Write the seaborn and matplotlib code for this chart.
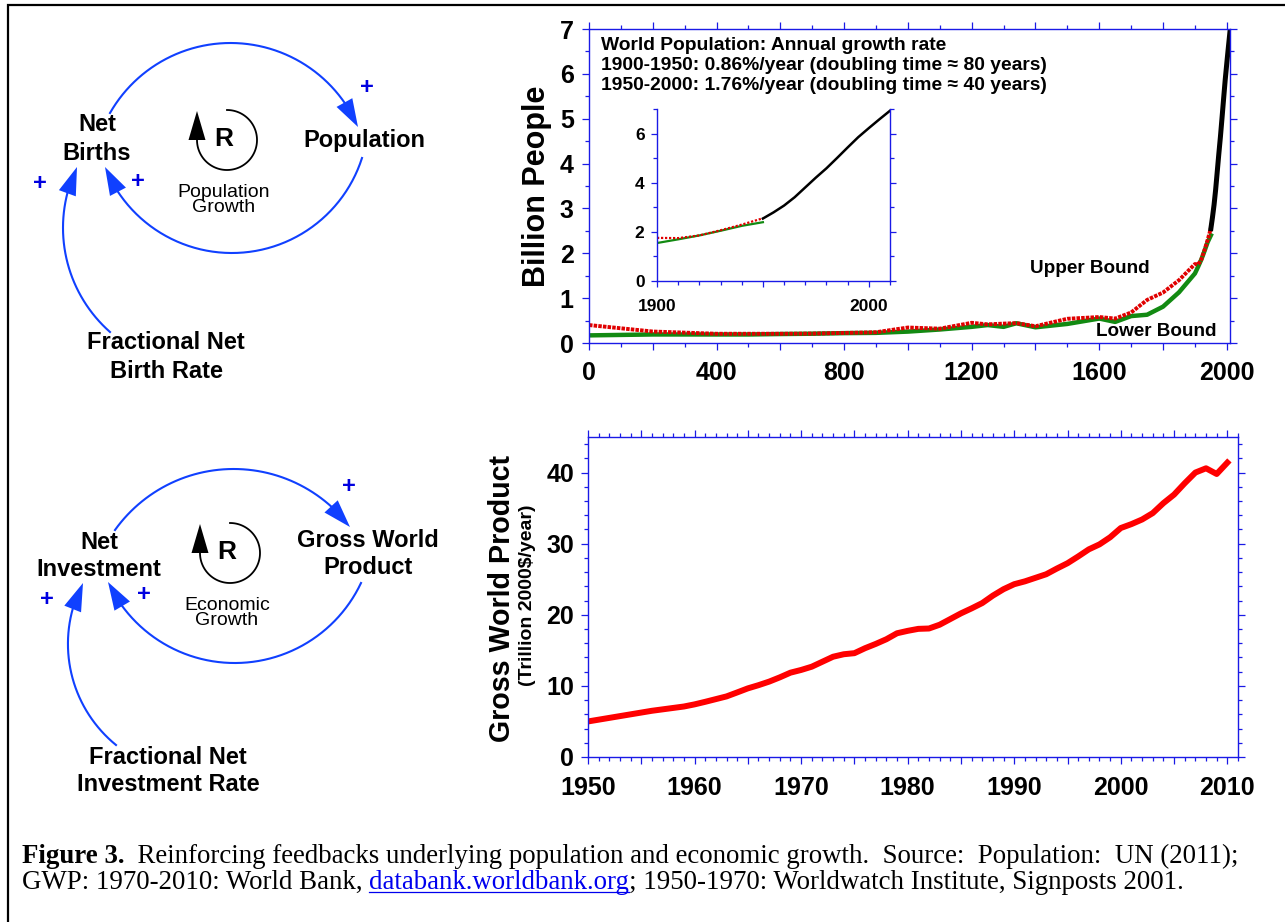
import matplotlib
matplotlib.use("Agg")
import matplotlib.pyplot as plt
import matplotlib.ticker as mticker
from matplotlib.patches import Polygon
import numpy as np
import seaborn as sns

# world population estimates, billions (lower / upper bound)
pop_years = [0, 200, 400, 500, 600, 700, 800, 900, 1000, 1100, 1200, 1250, 1300,
             1340, 1400, 1500, 1600, 1650, 1700, 1750, 1800, 1850, 1900, 1910,
             1920, 1930, 1940, 1950]
pop_lower = [0.17, 0.19, 0.19, 0.19, 0.20, 0.207, 0.22, 0.226, 0.254, 0.301, 0.36,
             0.40, 0.36, 0.44, 0.35, 0.425, 0.545, 0.47, 0.60, 0.63, 0.81, 1.13,
             1.55, 1.70, 1.86, 2.05, 2.25, 2.40]
pop_upper = [0.40, 0.256, 0.206, 0.206, 0.206, 0.21, 0.224, 0.24, 0.345, 0.32, 0.45,
             0.416, 0.432, 0.443, 0.374, 0.54, 0.579, 0.545, 0.68, 0.96, 1.125, 1.40,
             1.76, 1.75, 1.86, 2.07, 2.30, 2.56]
# UN series 1950-2010, billions
un_years = [1950, 1955, 1960, 1965, 1970, 1975, 1980, 1985, 1990, 1995, 2000, 2005, 2010]
un_pop = [2.55, 2.80, 3.08, 3.42, 3.82, 4.22, 4.60, 5.02, 5.45, 5.87, 6.24, 6.60, 6.95]

# gross world product, trillion 2000$/year
gwp_years = list(range(1950, 2011))
gwp = [5.0, 5.25, 5.5, 5.75, 6.0, 6.25, 6.5, 6.7, 6.9, 7.1,
       7.4, 7.76, 8.14, 8.52, 9.08, 9.65, 10.1, 10.6, 11.2, 11.86,
       12.24, 12.7, 13.4, 14.1, 14.45, 14.6, 15.3, 15.9, 16.56, 17.4,
       17.74, 18.02, 18.07, 18.6, 19.4, 20.2, 20.9, 21.65, 22.7, 23.6,
       24.3, 24.7, 25.2, 25.7, 26.5, 27.25, 28.2, 29.2, 29.9, 30.9,
       32.2, 32.75, 33.4, 34.3, 35.7, 36.9, 38.5, 40.0, 40.6, 39.8, 41.4]

plt.rcParams["font.family"] = ["Liberation Sans", "DejaVu Sans"]
plt.rcParams["font.weight"] = "bold"
plt.rcParams["axes.labelweight"] = "bold"

W, H = 1285, 922
AXBLUE = "#1a1ae6"
LINKBLUE = "#1040ff"
PLUSBLUE = "#0000e0"

fig = plt.figure(figsize=(W / 100, H / 100), dpi=100)
bg = fig.add_axes([0, 0, 1, 1])
bg.set_xlim(0, W)
bg.set_ylim(H, 0)
bg.axis("off")

bg.plot([8, 8, W], [H, 5, 5], color="black", lw=1.6, solid_joinstyle="miter")


def circle_center(p, q, s):
    (x1, y1), (x2, y2), (x3, y3) = p, q, s
    d = 2 * (x1 * (y2 - y3) + x2 * (y3 - y1) + x3 * (y1 - y2))
    ux = ((x1**2 + y1**2) * (y2 - y3) + (x2**2 + y2**2) * (y3 - y1)
          + (x3**2 + y3**2) * (y1 - y2)) / d
    uy = ((x1**2 + y1**2) * (x3 - x2) + (x2**2 + y2**2) * (x1 - x3)
          + (x3**2 + y3**2) * (x2 - x1)) / d
    return ux, uy


def arrow_head(ax, tip, base, color, width=18):
    tip = np.array(tip, float)
    base = np.array(base, float)
    u = tip - base
    u /= np.hypot(*u)
    n = np.array([-u[1], u[0]])
    pts = [tip, base + n * width / 2, base - n * width / 2]
    ax.add_patch(Polygon(pts, closed=True, facecolor=color, edgecolor="none", zorder=3))


def link(ax, start, mid, tip, head=28):
    cx, cy = circle_center(start, mid, tip)
    r = np.hypot(start[0] - cx, start[1] - cy)
    ang = lambda p: np.arctan2(p[1] - cy, p[0] - cx)
    a0, am, a1 = ang(start), ang(mid), ang(tip)
    sweep = (a1 - a0) % (2 * np.pi)
    if (am - a0) % (2 * np.pi) > sweep:
        sweep -= 2 * np.pi
    a_base = a0 + sweep - np.sign(sweep) * head / r
    t = np.linspace(a0, a_base, 150)
    ax.plot(cx + r * np.cos(t), cy + r * np.sin(t), color=LINKBLUE, lw=1.5)
    arrow_head(ax, tip, (cx + r * np.cos(a_base), cy + r * np.sin(a_base)), LINKBLUE)


def loop_marker(ax, cx, cy, name):
    r = 30
    t = np.radians(np.linspace(90, -180, 120))
    ax.plot(cx + r * np.cos(t), cy - r * np.sin(t), color="black", lw=1.3)
    arrow_head(ax, (cx - r, cy - 29), (cx - r, cy), "black", 17)
    ax.text(cx - 3, cy - 1, "R", fontsize=19, ha="center", va="center")
    ax.text(cx - 3, cy + 60, name, fontsize=14, fontweight="normal",
            ha="center", va="center", linespacing=0.9)


def plus(ax, x, y):
    ax.text(x, y, "+", color=PLUSBLUE, fontsize=17, ha="center", va="center")


# population loop
bg.text(97, 139, "Net\nBirths", fontsize=17, ha="center", va="center", linespacing=1.3)
bg.text(364, 141, "Population", fontsize=17, ha="center", va="center")
bg.text(166, 357, "Fractional Net\nBirth Rate", fontsize=17, ha="center", va="center",
        linespacing=1.3)
link(bg, (110, 113), (230, 43), (358, 127))
link(bg, (362, 158), (233, 253), (105, 167))
link(bg, (110, 332), (63, 227), (77, 167))
plus(bg, 367, 87)
plus(bg, 138, 182)
plus(bg, 40, 184)
loop_marker(bg, 227, 140, "Population\nGrowth")

# economic loop
bg.text(99, 556, "Net\nInvestment", fontsize=17, ha="center", va="center", linespacing=1.25)
bg.text(368, 554, "Gross World\nProduct", fontsize=17, ha="center", va="center",
        linespacing=1.25)
bg.text(168, 771, "Fractional Net\nInvestment Rate", fontsize=17, ha="center",
        va="center", linespacing=1.25)
link(bg, (115, 530), (233, 469), (350, 527))
link(bg, (361, 583), (233, 663), (108, 582))
link(bg, (116, 745), (68, 640), (83, 583))
plus(bg, 349, 486)
plus(bg, 144, 594)
plus(bg, 47, 599)
loop_marker(bg, 230, 553, "Economic\nGrowth")


def style_axes(ax, size):
    for s in ax.spines.values():
        s.set_color(AXBLUE)
        s.set_linewidth(1.0)
    ax.tick_params(which="both", direction="out", color=AXBLUE, width=0.9,
                   labelcolor="black", labelsize=size)
    ax.tick_params(which="major", length=5)
    ax.tick_params(which="minor", length=3)
    ax.set_xlabel("")
    ax.set_ylabel("")


# top chart: world population
ax1 = fig.add_axes([589 / W, 1 - 343 / H, 641 / W, 314 / H])
sns.lineplot(x=pop_years, y=pop_lower, ax=ax1, color="#128a12", lw=3.2)
sns.lineplot(x=pop_years, y=pop_upper, ax=ax1, color="#e00000", lw=2.8,
             ls=(0, (0.9, 0.3)))
sns.lineplot(x=un_years, y=un_pop, ax=ax1, color="black", lw=3.6)
ax1.set_xlim(0, 2010)
ax1.set_ylim(0, 7.0)
style_axes(ax1, 18)
ax1.tick_params(which="both", top=True, right=True, labeltop=False, labelright=False)
ax1.tick_params(axis="x", pad=8)
ax1.tick_params(axis="y", pad=6)
ax1.xaxis.set_major_locator(mticker.MultipleLocator(200))
ax1.xaxis.set_minor_locator(mticker.MultipleLocator(100))
ax1.xaxis.set_major_formatter(mticker.FuncFormatter(
    lambda v, p: f"{v:.0f}" if round(v) % 400 == 0 else ""))
ax1.yaxis.set_major_locator(mticker.MultipleLocator(1))
ax1.yaxis.set_minor_locator(mticker.MultipleLocator(0.5))
ax1.set_ylabel("Billion People", fontsize=22, fontweight="bold")
ax1.yaxis.set_label_coords((537 - 589) / 641, 0.5)
ax1.yaxis.label.set_va("center")
ax1.text(0.019, 0.975,
         "World Population: Annual growth rate\n"
         "1900-1950: 0.86%/year (doubling time \u2248 80 years)\n"
         "1950-2000: 1.76%/year (doubling time \u2248 40 years)",
         transform=ax1.transAxes, fontsize=13.9, va="top", ha="left", linespacing=1.22)
ax1.text(1569, 1.67, "Upper Bound", fontsize=13.6, ha="center", va="center")
ax1.text(1779, 0.26, "Lower Bound", fontsize=13.6, ha="center", va="center")

# inset: 1900-2010
inset_years = [y for y in pop_years if y >= 1900]
inset_lower = pop_lower[-len(inset_years):]
inset_upper = pop_upper[-len(inset_years):]
ax3 = fig.add_axes([657 / W, 1 - 281 / H, 233 / W, 172 / H])
sns.lineplot(x=inset_years, y=inset_lower, ax=ax3, color="#128a12", lw=1.6)
sns.lineplot(x=inset_years, y=inset_upper, ax=ax3, color="#e00000", lw=1.6,
             ls=(0, (1, 0.8)))
sns.lineplot(x=un_years, y=un_pop, ax=ax3, color="black", lw=1.8)
ax3.set_xlim(1900, 2010)
ax3.set_ylim(0, 7.02)
style_axes(ax3, 12.5)
ax3.spines["top"].set_visible(False)
ax3.tick_params(which="both", right=True, labelright=False)
ax3.tick_params(which="major", length=4)
ax3.tick_params(axis="x", pad=9)
ax3.tick_params(axis="y", pad=5)
ax3.xaxis.set_major_locator(mticker.MultipleLocator(50))
ax3.xaxis.set_minor_locator(mticker.MultipleLocator(10))
ax3.xaxis.set_major_formatter(mticker.FuncFormatter(
    lambda v, p: f"{v:.0f}" if round(v) % 100 == 0 else ""))
ax3.yaxis.set_major_locator(mticker.MultipleLocator(2))
ax3.yaxis.set_minor_locator(mticker.MultipleLocator(1))

# bottom chart: gross world product
ax2 = fig.add_axes([588 / W, 1 - 757 / H, 650 / W, 320 / H])
sns.lineplot(x=gwp_years, y=gwp, ax=ax2, color="#ff0000", lw=4.3)
ax2.set_xlim(1950, 2011)
ax2.set_ylim(0, 45)
style_axes(ax2, 18)
ax2.tick_params(which="both", top=True, right=True, labeltop=False, labelright=False)
ax2.tick_params(axis="x", pad=9)
ax2.tick_params(axis="y", pad=5)
ax2.xaxis.set_major_locator(mticker.MultipleLocator(5))
ax2.xaxis.set_minor_locator(mticker.MultipleLocator(1))
ax2.xaxis.set_major_formatter(mticker.FuncFormatter(
    lambda v, p: f"{v:.0f}" if round(v) % 10 == 0 else ""))
ax2.yaxis.set_major_locator(mticker.MultipleLocator(10))
ax2.yaxis.set_minor_locator(mticker.MultipleLocator(2))
ax2.set_ylabel("Gross World Product", fontsize=20.6, fontweight="bold")
ax2.yaxis.set_label_coords((502 - 588) / 650, (757 - 598) / 320)
ax2.yaxis.label.set_va("center")
ax2.text((528 - 588) / 650, (757 - 595) / 320, "(Trillion 2000$/year)",
         transform=ax2.transAxes, rotation=90, fontsize=14, ha="center", va="center")

# caption
renderer = fig.canvas.get_renderer()


def advance(txt, **kw):
    a = bg.text(0, 0, txt + "|", **kw)
    b = bg.text(0, 0, "|", **kw)
    w = a.get_window_extent(renderer).width - b.get_window_extent(renderer).width
    a.remove()
    b.remove()
    return w


cap = dict(family=["Liberation Serif", "DejaVu Serif"], fontsize=19.4, va="baseline")
pieces1 = [("Figure 3.", "bold", "black", False),
           ("  Reinforcing feedbacks underlying population and economic growth."
            "  Source:  Population:  UN (2011);", "normal", "black", False)]
pieces2 = [("GWP: 1970-2010: World Bank, ", "normal", "black", False),
           ("databank.worldbank.org", "normal", "#0000ee", True),
           ("; 1950-1970: Worldwatch Institute, Signposts 2001.", "normal", "black", False)]
for y0, pieces in [(863, pieces1), (889, pieces2)]:
    x = 22
    for txt, wt, col, under in pieces:
        bg.text(x, y0, txt, fontweight=wt, color=col, **cap)
        w = advance(txt, fontweight=wt, **cap)
        if under:
            bg.plot([x, x + w], [y0 + 2.5, y0 + 2.5], color=col, lw=0.9)
        x += w

fig.savefig("out.png", dpi=100)
